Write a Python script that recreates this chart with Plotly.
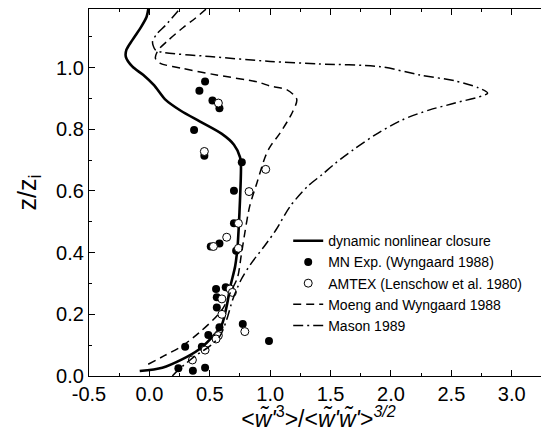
import plotly.graph_objects as go

# dynamic nonlinear closure (solid)
dnc_x = [-0.08, 0.107, 0.27, 0.41, 0.53, 0.60, 0.64, 0.67, 0.71, 0.73, 0.74, 0.75, 0.758,
         0.75, 0.70, 0.60, 0.42, 0.26, 0.13, 0.04, -0.05, -0.14, -0.195, -0.19, -0.14,
         -0.067, -0.023, -0.009]
dnc_y = [0.016, 0.027, 0.054, 0.086, 0.13, 0.167, 0.227, 0.29, 0.356, 0.42, 0.485, 0.57, 0.68,
         0.71, 0.75, 0.785, 0.825, 0.86, 0.897, 0.942, 0.976, 1.003, 1.035, 1.058, 1.09,
         1.133, 1.165, 1.19]

# Moeng and Wyngaard 1988 (dashed)
mw_x = [-0.01, 0.12, 0.27, 0.41, 0.53, 0.61, 0.67, 0.73, 0.76, 0.79, 0.83, 0.89, 0.96, 1.0,
        1.08, 1.18, 1.22, 1.14, 1.0, 0.90, 0.556, 0.267, 0.09, 0.05, 0.07, 0.16, 0.28, 0.38, 0.47]
mw_y = [0.038, 0.065, 0.097, 0.14, 0.183, 0.22, 0.27, 0.32, 0.39, 0.464, 0.55, 0.626, 0.712,
        0.744, 0.787, 0.852, 0.897, 0.928, 0.94, 0.953, 0.976, 0.998, 1.014, 1.03, 1.055,
        1.09, 1.13, 1.16, 1.19]

# Mason 1989 (dash-dot)
ma_x = [0.19, 0.24, 0.38, 0.50, 0.585, 0.64, 0.69, 0.76, 0.846, 0.95, 1.05, 1.165, 1.31, 1.43,
        1.54, 1.69, 1.89, 2.09, 2.32, 2.53, 2.80, 2.72, 2.53, 2.24, 1.91, 1.40, 1.0, 0.50,
        0.12, 0.05, 0.026, 0.064, 0.136, 0.25]
ma_y = [0.0, 0.02, 0.065, 0.097, 0.13, 0.183, 0.248, 0.313, 0.367, 0.42, 0.475, 0.55, 0.615,
        0.653, 0.69, 0.734, 0.787, 0.83, 0.863, 0.885, 0.917, 0.935, 0.957, 0.976, 1.003,
        1.012, 1.02, 1.036, 1.049, 1.057, 1.084, 1.11, 1.138, 1.19]

# MN Exp. (Wyngaard 1988), filled circles
mn_x = [0.461, 0.414, 0.522, 0.58, 0.37, 0.455, 0.765, 0.70, 0.70, 0.508, 0.58, 0.718, 0.552,
        0.632, 0.558, 0.558, 0.58, 0.773, 0.488, 0.99, 0.296, 0.434, 0.24, 0.36, 0.461]
mn_y = [0.955, 0.925, 0.893, 0.868, 0.798, 0.714, 0.693, 0.601, 0.495, 0.42, 0.43, 0.406, 0.282,
        0.288, 0.255, 0.222, 0.158, 0.169, 0.133, 0.1135, 0.095, 0.095, 0.025, 0.017, 0.027]

# AMTEX (Lenschow et al. 1980), open circles
am_x = [0.571, 0.455, 0.963, 0.825, 0.737, 0.64, 0.53, 0.737, 0.668, 0.687, 0.60, 0.60, 0.79,
        0.571, 0.552, 0.461, 0.356]
am_y = [0.885, 0.728, 0.67, 0.598, 0.495, 0.45, 0.42, 0.414, 0.282, 0.271, 0.25, 0.20, 0.144,
        0.131, 0.12, 0.084, 0.052]

# tick labels
x_ticks = [-0.5, 0.0, 0.5, 1.0, 1.5, 2.0, 2.5, 3.0]
x_ticklabels = ["-0.5", "0.0", "0.5", "1.0", "1.5", "2.0", "2.5", "3.0"]
y_ticks = [0.0, 0.2, 0.4, 0.6, 0.8, 1.0]
y_ticklabels = ["0.0", "0.2", "0.4", "0.6", "0.8", "1.0"]

fig = go.Figure()
fig.add_trace(go.Scatter(x=dnc_x, y=dnc_y, mode="lines", name="dynamic nonlinear closure",
                         line=dict(color="black", width=2.6, shape="spline", smoothing=0.8)))
fig.add_trace(go.Scatter(x=mn_x, y=mn_y, mode="markers", name="MN Exp. (Wyngaard 1988)",
                         marker=dict(color="black", size=8, line=dict(width=0))))
fig.add_trace(go.Scatter(x=am_x, y=am_y, mode="markers", name="AMTEX (Lenschow et al. 1980)",
                         marker=dict(color="white", size=8, line=dict(color="black", width=1))))
fig.add_trace(go.Scatter(x=mw_x, y=mw_y, mode="lines", name="Moeng and Wyngaard 1988",
                         line=dict(color="black", width=1.5, dash="8px,5px",
                                   shape="spline", smoothing=0.8)))
fig.add_trace(go.Scatter(x=ma_x, y=ma_y, mode="lines", name="Mason 1989",
                         line=dict(color="black", width=1.5, dash="10px,4px,2px,4px",
                                   shape="spline", smoothing=0.8)))

axis_common = dict(showline=True, linecolor="black", linewidth=1.2, mirror="ticks",
                   ticks="inside", ticklen=6, tickwidth=1.2, tickcolor="black",
                   showgrid=False, zeroline=False, automargin=False,
                   tickfont=dict(size=20, color="black"))

fig.update_xaxes(range=[-0.5, 3.3], tickvals=x_ticks, ticktext=x_ticklabels,
                 minor=dict(dtick=0.25, ticks="inside", ticklen=3, tickcolor="black"),
                 title=dict(text="&lt;<i>w\u0303'</i><sup>3</sup>&gt;/&lt;<i>w\u0303'w\u0303'</i>&gt;<sup><i>3/2</i></sup>",
                            font=dict(size=23, color="black"), standoff=6),
                 **axis_common)
fig.update_yaxes(range=[0, 1.19], tickvals=y_ticks, ticktext=y_ticklabels,
                 minor=dict(dtick=0.1, ticks="inside", ticklen=3, tickcolor="black"),
                 title=dict(text="z/z<sub>i</sub>", font=dict(size=25, color="black"), standoff=12),
                 **axis_common)

# the page body adds an 8px offset, so the figure is sized to fit the window
fig.update_layout(
    width=541, height=424,
    margin=dict(l=81, r=1, t=1, b=56, autoexpand=False),
    paper_bgcolor="white", plot_bgcolor="white",
    font=dict(family="Liberation Sans, Arial, sans-serif", color="black"),
    legend=dict(x=0.434, y=0.411, xanchor="left", yanchor="top",
                bgcolor="rgba(0,0,0,0)", font=dict(size=14), tracegroupgap=0,
                itemwidth=30),
    showlegend=True,
)

fig.write_html("out.html")
